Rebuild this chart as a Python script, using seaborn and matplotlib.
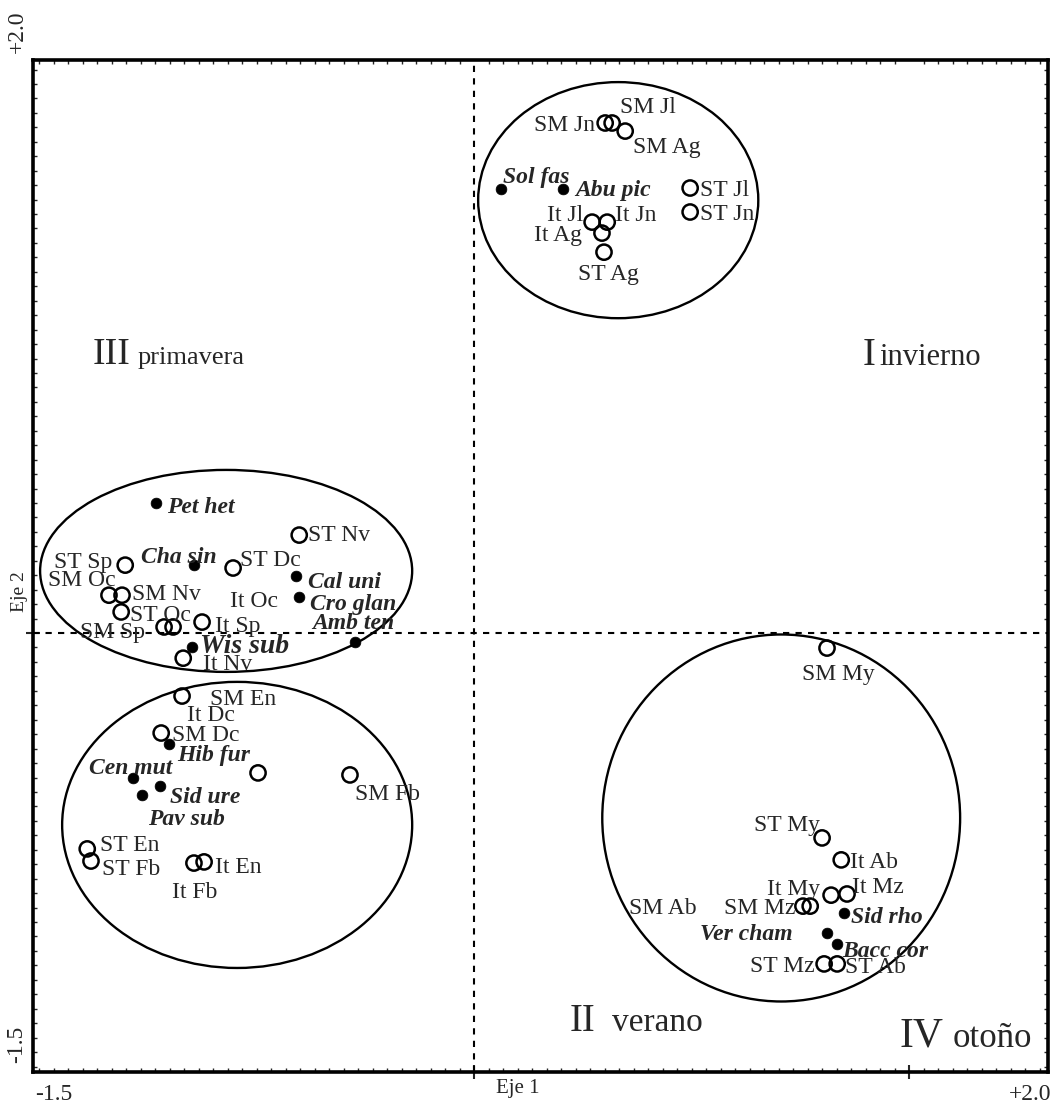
import numpy as np
import pandas as pd
import matplotlib
matplotlib.use("Agg")
import matplotlib.pyplot as plt
import seaborn as sns
from matplotlib.patches import Ellipse
from matplotlib.ticker import MultipleLocator

# sitios x meses (circulos abiertos)
site_names = [
    "SM Jn", "SM Jl", "SM Ag", "ST Jl", "ST Jn", "It Jl", "It Jn", "It Ag", "ST Ag",
    "ST Nv", "ST Sp", "ST Dc", "SM Oc", "SM Nv", "ST Oc", "It Sp", "SM Sp", "It Oc", "It Nv",
    "SM En", "SM Dc", "It Dc", "SM Fb", "ST En", "ST Fb", "It En", "It Fb",
    "SM My", "ST My", "It Ab", "It My", "It Mz", "SM Ab", "SM Mz", "ST Mz", "ST Ab",
]
site_x = [
    0.452, 0.476, 0.521, 0.745, 0.745, 0.407, 0.459, 0.441, 0.448,
    -0.603, -1.203, -0.831, -1.259, -1.214, -1.217, -0.938, -1.069, -1.038, -1.003,
    -1.007, -1.079, -0.745, -0.428, -1.334, -1.321, -0.931, -0.966,
    1.217, 1.200, 1.266, 1.231, 1.286, 1.134, 1.159, 1.207, 1.252,
]
site_y = [
    1.765, 1.765, 1.737, 1.540, 1.457, 1.422, 1.422, 1.384, 1.318,
    0.339, 0.235, 0.225, 0.131, 0.131, 0.073, 0.038, 0.021, 0.021, -0.087,
    -0.218, -0.346, -0.484, -0.491, -0.747, -0.789, -0.792, -0.796,
    -0.052, -0.709, -0.785, -0.907, -0.903, -0.945, -0.945, -1.145, -1.145,
]

# especies (puntos llenos)
species_names = [
    "Sol fas", "Abu pic", "Pet het", "Cha sin", "Cal uni", "Cro glan", "Amb ten", "Wis sub",
    "Hib fur", "Cen mut", "Sid ure", "Pav sub", "Sid rho", "Ver cham", "Bacc cor",
]
species_x = [0.093, 0.307, -1.097, -0.966, -0.614, -0.603, -0.410, -0.972,
             -1.052, -1.176, -1.083, -1.145, 1.276, 1.217, 1.252]
species_y = [1.536, 1.536, 0.450, 0.235, 0.197, 0.125, -0.031, -0.048,
             -0.384, -0.502, -0.529, -0.561, -0.969, -1.038, -1.076]

# grupos (elipses): I invierno, III primavera, II verano, IV otoño
group_cx = [0.497, -0.855, -0.817, 1.059]
group_cy = [1.498, 0.215, -0.664, -0.640]
group_w = [0.966, 1.283, 1.207, 1.234]
group_h = [0.817, 0.699, 0.990, 1.270]

quad_numerals = ["I", "III", "II", "IV"]
quad_words = ["invierno", "primavera", "verano", "otoño"]

# posicion de etiquetas: (dx, dy) en pixeles desde el punto, alineacion
label_pos = {
    "SM Jn": (-10, 0, "right"), "SM Jl": (8, 18, "left"), "SM Ag": (8, -14, "left"),
    "ST Jl": (10, 0, "left"), "ST Jn": (10, 0, "left"), "It Jl": (-9, 9, "right"),
    "It Jn": (8, 9, "left"), "It Ag": (-20, 0, "right"), "ST Ag": (4, -20, "center"),
    "ST Nv": (9, 2, "left"), "ST Sp": (-13, 5, "right"), "ST Dc": (7, 10, "left"),
    "SM Oc": (-27, 17, "center"), "SM Nv": (10, 3, "left"), "ST Oc": (9, -1, "left"),
    "It Sp": (13, -2, "left"), "SM Sp": (-19, -3, "right"), "It Oc": (57, 28, "left"),
    "It Nv": (20, -4, "left"),
    "SM En": (28, -1, "left"), "SM Dc": (11, 0, "left"), "It Dc": (-71, 60, "left"),
    "SM Fb": (5, -17, "left"), "ST En": (13, 6, "left"), "ST Fb": (11, -6, "left"),
    "It En": (11, -3, "left"), "It Fb": (1, -27, "center"),
    "SM My": (11, -24, "center"), "ST My": (-2, 15, "right"), "It Ab": (9, 0, "left"),
    "It My": (-11, 8, "right"), "It Mz": (5, 9, "left"), "SM Ab": (-106, 0, "right"),
    "SM Mz": (-15, 0, "right"), "ST Mz": (-9, 0, "right"), "ST Ab": (8, -1, "left"),
    "Sol fas": (2, 14, "left"), "Abu pic": (12, 1, "left"), "Pet het": (11, -2, "left"),
    "Cha sin": (-15, 10, "center"), "Cal uni": (12, -4, "left"), "Cro glan": (11, -5, "left"),
    "Amb ten": (-2, 21, "center"), "Wis sub": (8, 3, "left"), "Hib fur": (8, -9, "left"),
    "Cen mut": (-2, 12, "center"), "Sid ure": (10, -9, "left"), "Pav sub": (6, -22, "left"),
    "Sid rho": (7, -2, "left"), "Ver cham": (-34, 1, "right"), "Bacc cor": (5, -5, "left"),
}

sns.set_style("white")
plt.rcParams["font.family"] = ["Liberation Serif", "DejaVu Serif"]

W, H = 1057, 1112
fig = plt.figure(figsize=(W / 100, H / 100), dpi=100)
ax = fig.add_axes([33 / W, 40 / H, 1015 / W, 1012 / H])
ax.set_xlim(-1.521, 1.979)
ax.set_ylim(-1.519, 1.983)

sites = pd.DataFrame({"name": site_names, "x": site_x, "y": site_y})
species = pd.DataFrame({"name": species_names, "x": species_x, "y": species_y})

for cx, cy, w, h in zip(group_cx, group_cy, group_w, group_h):
    ax.add_patch(Ellipse((cx, cy), w, h, fill=False, lw=1.7, ec="black", zorder=1))

ax.axhline(0, color="black", lw=1.5, ls=(0, (3, 3)), zorder=1)
ax.axvline(0, color="black", lw=1.5, ls=(0, (3, 3)), zorder=1)

sns.scatterplot(data=sites, x="x", y="y", ax=ax, marker="o", s=120,
                facecolor="none", edgecolor="black", linewidth=1.8, legend=False, zorder=3)
sns.scatterplot(data=species, x="x", y="y", ax=ax, marker="o", s=60,
                color="black", edgecolor="black", linewidth=0.5, legend=False, zorder=3)

for row in sites.itertuples():
    dx, dy, ha = label_pos[row.name]
    ax.annotate(row.name, (row.x, row.y), xytext=(dx, dy), textcoords="offset pixels",
                ha=ha, va="center_baseline", fontsize=17)

for row in species.itertuples():
    dx, dy, ha = label_pos[row.name]
    size = 20 if row.name == "Wis sub" else 17
    ax.annotate(row.name, (row.x, row.y), xytext=(dx, dy), textcoords="offset pixels",
                ha=ha, va="center_baseline", fontsize=size, fontstyle="italic",
                fontweight="bold")

# etiquetas de cuadrantes
quad_xy = [(0.817, 0.834, 0.699), (0.059, 0.103, 0.700), (0.529, 0.570, 0.041), (0.854, 0.906, 0.025)]
num_sizes = [28, 27, 28, 30]
word_sizes = [22, 19, 24, 25]
for (xn, xw, yb), num, word, ns, ws in zip(quad_xy, quad_numerals, quad_words, num_sizes, word_sizes):
    ax.text(xn, yb, num, transform=ax.transAxes, fontsize=ns, va="baseline", ha="left")
    ax.text(xw, yb, word, transform=ax.transAxes, fontsize=ws, va="baseline", ha="left")

# ejes
for sp in ax.spines.values():
    sp.set_linewidth(2.6)
    sp.set_color("black")
ax.set_xticks([0, 1.5])
ax.set_yticks([0])
ax.xaxis.set_minor_locator(MultipleLocator(0.05))
ax.yaxis.set_minor_locator(MultipleLocator(0.05))
ax.tick_params(which="major", direction="inout", length=10, width=1.5,
               bottom=True, left=True, labelbottom=False, labelleft=False)
ax.tick_params(which="minor", direction="in", length=3, width=1.0,
               bottom=True, left=True, top=True, right=True)
ax.set_xlabel("")
ax.set_ylabel("")

fig.text(54 / W, 1 - 1095 / H, "-1.5", ha="center", va="center", fontsize=17)
fig.text(1030 / W, 1 - 1094 / H, "+2.0", ha="center", va="center", fontsize=17)
fig.text(518 / W, 1 - 1089 / H, "Eje 1", ha="center", va="center", fontsize=15)
fig.text(17 / W, 1 - 32 / H, "+2.0", ha="center", va="center", fontsize=17, rotation=90)
fig.text(17 / W, 1 - 1044 / H, "-1.5", ha="center", va="center", fontsize=17, rotation=90)
fig.text(20 / W, 1 - 592 / H, "Eje 2", ha="center", va="center", fontsize=14, rotation=90)

fig.savefig("out.png", dpi=100)
